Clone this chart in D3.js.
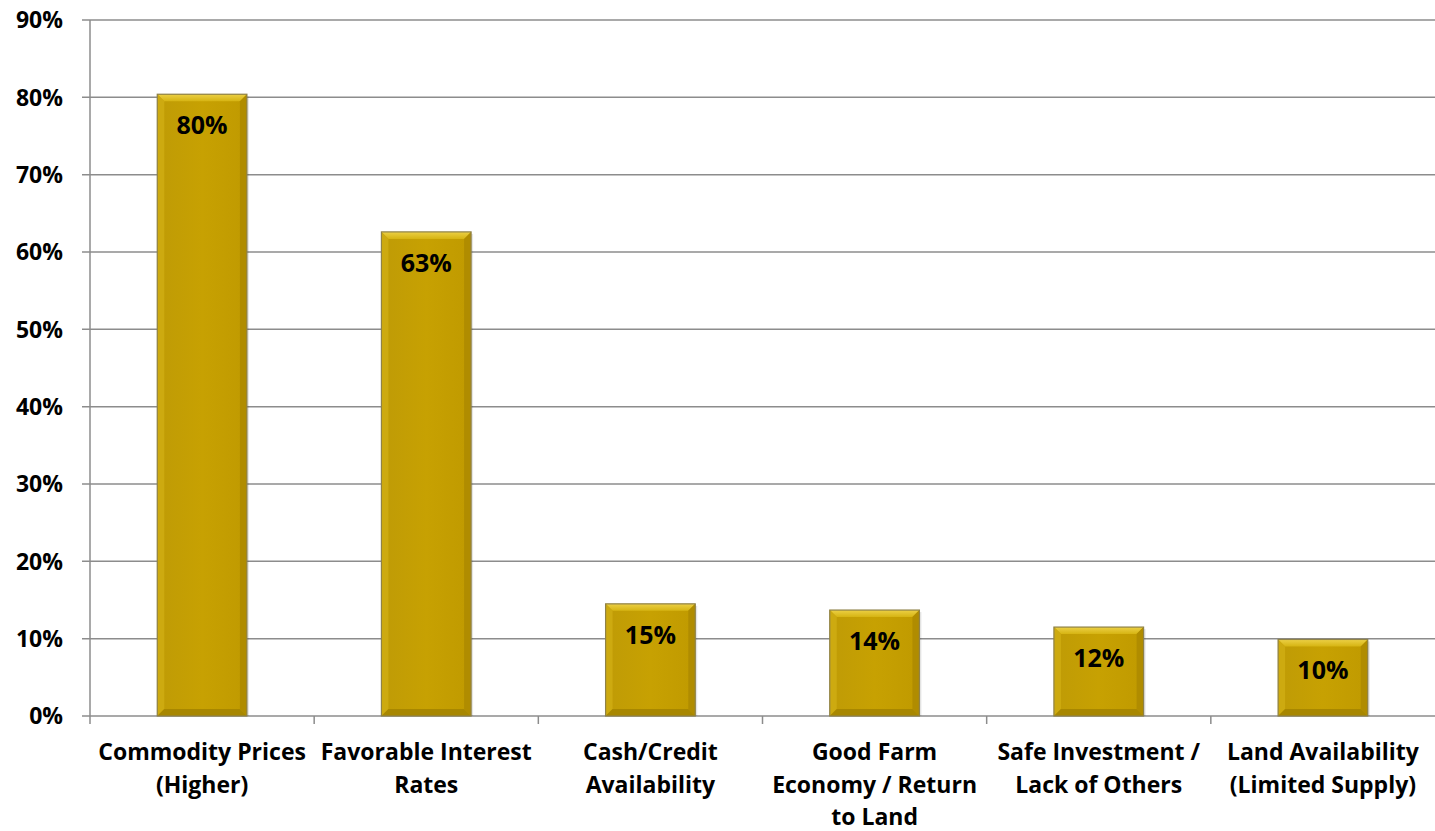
<!DOCTYPE html>
<html><head><meta charset="utf-8">
<script src="https://cdn.jsdelivr.net/npm/d3@7"></script>
<style>
html,body{margin:0;padding:0;background:#fff;}
text{font-family:"Open Sans",Lato,sans-serif;font-weight:700;fill:#000;}
</style></head>
<body><svg id="chart" width="1435" height="831"></svg>
<script>
const categories = [
  ["Commodity Prices","(Higher)"],
  ["Favorable Interest","Rates"],
  ["Cash/Credit","Availability"],
  ["Good Farm","Economy / Return","to Land"],
  ["Safe Investment /","Lack of Others"],
  ["Land Availability","(Limited Supply)"]
];
const values = [80.4, 62.6, 14.5, 13.7, 11.5, 9.9];
const labels = ["80%","63%","15%","14%","12%","10%"];
const yTicks = [0,10,20,30,40,50,60,70,80,90];

const svg = d3.select("#chart");
const m = {left:90, right:0, top:20, bottom:115};
const W = 1435, H = 831;
const x = d3.scaleBand().domain(d3.range(categories.length)).range([m.left, W-m.right]).paddingInner(0.6).paddingOuter(0.3);
const xb = d3.scaleBand().domain(d3.range(categories.length)).range([m.left, W-m.right]);
const y = d3.scaleLinear().domain([0,90]).range([H-m.bottom, m.top]);

const defs = svg.append("defs");
const gV = defs.append("linearGradient").attr("id","body").attr("x1",0).attr("x2",1).attr("y1",0).attr("y2",0);
gV.append("stop").attr("offset",0).attr("stop-color","#bf9b06");
gV.append("stop").attr("offset",0.5).attr("stop-color","#c7a102");
gV.append("stop").attr("offset",1).attr("stop-color","#c09a00");
const gT = defs.append("linearGradient").attr("id","topb").attr("x1",0).attr("x2",0).attr("y1",0).attr("y2",1);
gT.append("stop").attr("offset",0).attr("stop-color","#ecd046");
gT.append("stop").attr("offset",1).attr("stop-color","#d6b412");

// gridlines
svg.append("g").selectAll("line").data(yTicks).join("line")
  .attr("x1", m.left-8).attr("x2", W).attr("y1", d=>y(d)).attr("y2", d=>y(d))
  .attr("stroke","#8c8c8c").attr("stroke-width",1.5);

// y axis line
svg.append("line").attr("x1",m.left).attr("x2",m.left).attr("y1",y(90)).attr("y2",y(0)+8)
  .attr("stroke","#8c8c8c").attr("stroke-width",1.5);
// x ticks
svg.append("g").selectAll("line").data(d3.range(1,categories.length)).join("line")
  .attr("x1", d=>xb(d)).attr("x2", d=>xb(d)).attr("y1", y(0)).attr("y2", y(0)+8)
  .attr("stroke","#8c8c8c").attr("stroke-width",1.5);

// y labels
svg.append("g").selectAll("text").data(yTicks).join("text")
  .attr("x", 63).attr("y", d=>y(d)).attr("dy","0.36em").attr("text-anchor","end")
  .style("font-size","23px").text(d=>d+"%");

// bars
const bv = 7;
const bars = svg.append("g").selectAll("g").data(values).join("g");
bars.each(function(v,i){
  const g = d3.select(this);
  const x0 = x(i), x1 = x(i)+x.bandwidth(), y0 = y(v), y1 = y(0);
  g.append("rect").attr("x",x0+2).attr("y",y0+2).attr("width",x1-x0).attr("height",y1-y0-2).attr("fill","#000").attr("opacity",0.1);
  g.append("rect").attr("x",x0).attr("y",y0).attr("width",x1-x0).attr("height",y1-y0).attr("fill","url(#body)");
  g.append("polygon").attr("points",[[x0,y0],[x1,y0],[x1-bv,y0+bv],[x0+bv,y0+bv]].join(" ")).attr("fill","url(#topb)");
  g.append("polygon").attr("points",[[x0,y0],[x0+bv,y0+bv],[x0+bv,y1-bv],[x0,y1]].join(" ")).attr("fill","#cdaa10");
  g.append("polygon").attr("points",[[x1,y0],[x1-bv,y0+bv],[x1-bv,y1-bv],[x1,y1]].join(" ")).attr("fill","#b08c00");
  g.append("polygon").attr("points",[[x0,y1],[x0+bv,y1-bv],[x1-bv,y1-bv],[x1,y1]].join(" ")).attr("fill","#a88700");
  g.append("rect").attr("x",x0).attr("y",y0).attr("width",x1-x0).attr("height",y1-y0).attr("fill","none").attr("stroke","#8f8248").attr("stroke-width",1.2);
  g.append("text").attr("x",(x0+x1)/2).attr("y",y0+40).attr("text-anchor","middle").style("font-size","25px").text(labels[i]);
});

// category labels
const cl = svg.append("g").selectAll("text").data(categories).join("text")
  .attr("x",(d,i)=>xb(i)+xb.bandwidth()/2).attr("y",760).attr("text-anchor","middle").style("font-size","23px");
cl.selectAll("tspan").data(d=>d).join("tspan").attr("x",function(){return this.parentNode.getAttribute("x");})
  .attr("dy",(d,j)=>j===0?0:32.5).text(d=>d);
</script></body></html>
